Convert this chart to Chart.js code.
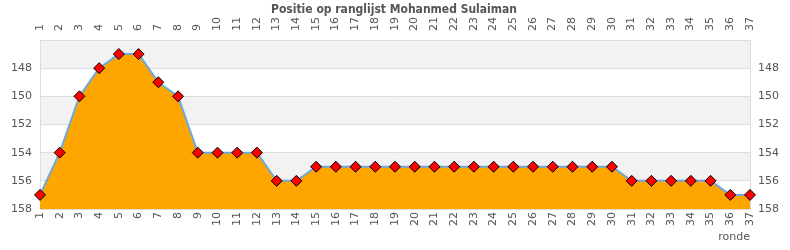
<!DOCTYPE html>
<html>
<head>
<meta charset="utf-8">
<script src="https://cdn.jsdelivr.net/npm/chart.js@4"></script>
<style>
  html, body { margin: 0; padding: 0; background: #fff; }
  #wrap { width: 790px; height: 250px; }
</style>
</head>
<body>
<div id="wrap"><canvas id="c" width="790" height="250"></canvas></div>
<script>
// chart data
const title = 'Positie op ranglijst Mohanmed Sulaiman';
const rondes = ['1','2','3','4','5','6','7','8','9','10','11','12','13','14','15','16','17','18','19',
  '20','21','22','23','24','25','26','27','28','29','30','31','32','33','34','35','36','37'];
const positie = [157,154,150,148,147,147,149,150,154,154,154,154,156,156,
  155,155,155,155,155,155,155,155,155,155,155,155,155,155,155,155,
  156,156,156,156,156,157,157];
const yMin = 146;
const yMax = 158;

Chart.defaults.font.family = 'DejaVu Sans';
Chart.defaults.font.size = 11;
Chart.defaults.color = '#555';

// grey/white bands behind the plot
const bands = {
  id: 'bands',
  beforeDraw(chart) {
    const { ctx, chartArea, scales } = chart;
    ctx.save();
    ctx.fillStyle = '#f2f2f2';
    for (let v = yMin; v < yMax; v += 4) {
      const a = scales.y.getPixelForValue(v);
      const b = scales.y.getPixelForValue(v + 2);
      ctx.fillRect(chartArea.left, Math.min(a, b), chartArea.right - chartArea.left, Math.abs(b - a));
    }
    ctx.restore();
  }
};

const titlePlugin = {
  id: 'topTitle',
  afterDraw(chart) {
    const ctx = chart.ctx;
    ctx.save();
    ctx.font = 'bold 12px "DejaVu Sans Condensed", "DejaVu Sans"';
    ctx.fillStyle = '#555';
    ctx.textAlign = 'center';
    ctx.textBaseline = 'middle';
    ctx.fillText(title, 394, 10);
    ctx.restore();
  }
};

const fixW = w => (s) => { s.width = w; };
const fixH = h => (s) => { s.height = h; };

new Chart(document.getElementById('c'), {
  type: 'line',
  data: {
    labels: rondes,
    datasets: [{
      data: positie,
      borderColor: '#6fa8dc',
      borderWidth: 2,
      backgroundColor: '#ffa500',
      fill: { value: yMax },
      tension: 0,
      pointStyle: 'rectRot',
      pointRadius: 5.5,
      pointBackgroundColor: '#ff0000',
      pointBorderColor: '#000',
      pointBorderWidth: 1,
      clip: false
    }]
  },
  options: {
    responsive: false,
    animation: false,
    layout: { padding: 0 },
    plugins: { legend: { display: false }, tooltip: { enabled: false }, title: { display: false } },
    scales: {
      x: {
        position: 'bottom',
        grid: { display: false, drawTicks: false },
        border: { display: true, color: '#ddd' },
        ticks: { minRotation: 90, maxRotation: 90, padding: 3, autoSkip: false },
        title: { display: true, text: 'ronde', align: 'end', padding: 6 },
        afterFit: fixH(41)
      },
      x2: {
        type: 'category',
        labels: rondes,
        position: 'top',
        grid: { display: false, drawTicks: false },
        border: { display: true, color: '#ddd' },
        ticks: { minRotation: 90, maxRotation: 90, padding: 9, labelOffset: 13, autoSkip: false },
        afterFit: fixH(40)
      },
      y: {
        position: 'left',
        reverse: true,
        min: yMin,
        max: yMax,
        grid: { color: '#dddddd', drawTicks: false },
        border: { display: true, color: '#ddd' },
        ticks: { stepSize: 2, padding: 8, callback: v => (v === yMin ? '' : v) },
        afterFit: fixW(40)
      },
      y2: {
        position: 'right',
        reverse: true,
        min: yMin,
        max: yMax,
        grid: { display: false, drawTicks: false },
        border: { display: true, color: '#ddd' },
        ticks: { stepSize: 2, padding: 8, callback: v => (v === yMin ? '' : v) },
        afterFit: fixW(40)
      }
    }
  },
  plugins: [bands, titlePlugin]
});
</script>
</body>
</html>
